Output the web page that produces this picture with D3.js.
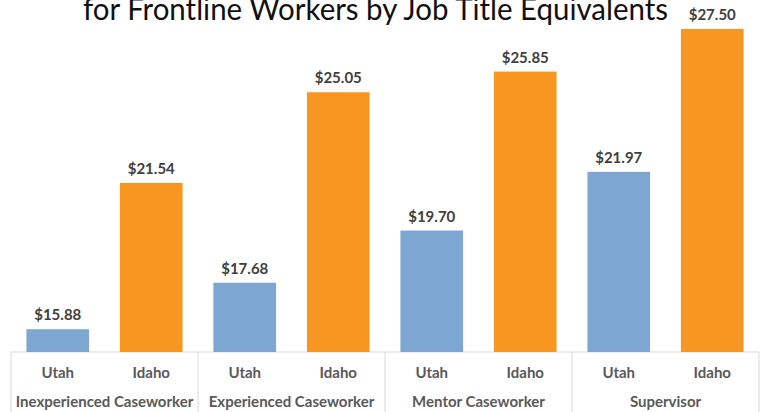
<!DOCTYPE html>
<html>
<head>
<meta charset="utf-8">
<script src="https://cdn.jsdelivr.net/npm/d3@7"></script>
<style>
  body { margin: 0; background: #fff; }
  svg { display: block; font-family: Lato, 'Open Sans', sans-serif; }
</style>
</head>
<body>
<div class="container"></div>
<script>
const jobTitles = ['Inexperienced Caseworker', 'Experienced Caseworker', 'Mentor Caseworker', 'Supervisor'];
const states = ['Utah', 'Idaho'];
const utahWages = [15.88, 17.68, 19.7, 21.97];
const idahoWages = [21.54, 25.05, 25.85, 27.5];
const yTicks = [15, 28];

const data = jobTitles
  .map((title, i) => [
    { title, state: 'Utah', wage: utahWages[i] },
    { title, state: 'Idaho', wage: idahoWages[i] }
  ])
  .flat();

const renderChart = () => {
  const width = 760;
  const height = 412;
  const left = 11;
  const right = 759;
  const axisY = 352;
  const top = 16;

  const svg = d3.select('.container').append('svg').attr('width', width).attr('height', height);

  // title's first line sits above the visible area, only the second line shows
  svg
    .append('text')
    .text('for Frontline Workers by Job Title Equivalents')
    .attr('x', 83)
    .attr('y', 20)
    .attr('font-size', 30)
    .attr('textLength', 585)
    .attr('lengthAdjust', 'spacingAndGlyphs')
    .attr('fill', '#111');

  const groupScale = d3.scaleBand().domain(jobTitles).range([left, right]);
  const xScale = d3.scaleBand().domain(states).range([0, groupScale.bandwidth()]).paddingInner(0.33).paddingOuter(0.165);
  const yScale = d3.scaleLinear().domain(yTicks).range([axisY, top]);

  const frame = svg.append('g').attr('class', 'frame').attr('stroke', '#d9d9d9').attr('fill', 'none');
  frame.append('line').attr('x1', left).attr('x2', right).attr('y1', axisY).attr('y2', axisY);
  [...jobTitles.map(t => groupScale(t)), right].forEach(x => {
    frame.append('line').attr('x1', x).attr('x2', x).attr('y1', axisY).attr('y2', height);
  });

  const groups = svg
    .append('g')
    .attr('class', 'bars')
    .selectAll('g')
    .data(jobTitles)
    .enter()
    .append('g')
    .attr('transform', t => `translate(${groupScale(t)},0)`);

  const bar = groups
    .selectAll('g')
    .data(t => data.filter(d => d.title === t))
    .enter()
    .append('g');

  bar
    .append('rect')
    .attr('x', d => xScale(d.state))
    .attr('width', xScale.bandwidth())
    .attr('y', d => yScale(d.wage))
    .attr('height', d => axisY - yScale(d.wage))
    .attr('fill', d => (d.state === 'Utah' ? '#7ea6d2' : '#f79621'));

  bar
    .append('text')
    .attr('x', d => xScale(d.state) + xScale.bandwidth() / 2)
    .attr('y', d => yScale(d.wage) - 9)
    .attr('text-anchor', 'middle')
    .attr('font-size', 15)
    .attr('font-weight', 'bold')
    .attr('fill', '#404040')
    .text(d => `$${d.wage.toFixed(2)}`);

  bar
    .append('text')
    .attr('x', d => xScale(d.state) + xScale.bandwidth() / 2)
    .attr('y', 378)
    .attr('text-anchor', 'middle')
    .attr('font-size', 15)
    .attr('font-weight', 'bold')
    .attr('fill', '#595959')
    .text(d => d.state);

  groups
    .append('text')
    .attr('x', groupScale.bandwidth() / 2)
    .attr('y', 407)
    .attr('text-anchor', 'middle')
    .attr('font-size', 15)
    .attr('font-weight', 'bold')
    .attr('fill', '#595959')
    .text(t => t);
};

renderChart();
</script>
</body>
</html>
